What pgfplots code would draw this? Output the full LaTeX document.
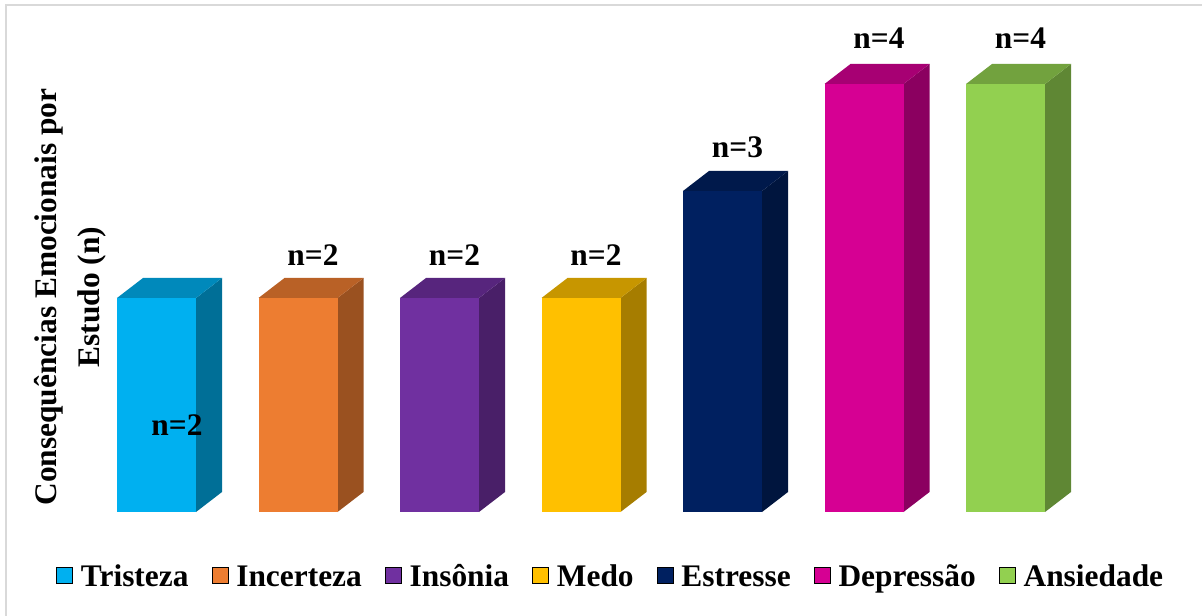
\documentclass[border=0pt]{standalone}
\usepackage{fontspec}
\setmainfont{Liberation Serif}
\usepackage{pgfplots}
\pgfplotsset{compat=1.18}
\definecolor{cTri}{HTML}{00B0F0}
\definecolor{cInc}{HTML}{ED7D31}
\definecolor{cIns}{HTML}{7030A0}
\definecolor{cMed}{HTML}{FFC000}
\definecolor{cEst}{HTML}{002060}
\definecolor{cDep}{HTML}{D60093}
\definecolor{cAns}{HTML}{92D050}
\definecolor{frameg}{HTML}{D9D9D9}
\newcommand{\lblfont}{\bfseries\fontsize{15.7}{18}\selectfont}
\newcommand{\legtxt}[1]{\hspace{2pt}\strut #1}
\begin{document}
\begin{tikzpicture}
\path[use as bounding box] (0,0) rectangle (601pt,307.5pt);
\draw[frameg, line width=1pt] (2.75pt,-2pt) -- (2.75pt,304.75pt) -- (605pt,304.75pt);
\begin{axis}[
  at={(49.95pt,51.5pt)}, anchor=south west,
  x=70.75pt, y=53.5pt,
  xmin=-0.4, xmax=6.7, ymin=0, ymax=4.6,
  hide axis, clip=false,
  /pgf/number format/assume math mode=true,
  legend columns=-1,
  legend image code/.code={\fill[#1] (0pt,-4pt) rectangle (8pt,4pt);},
  legend style={draw=none, fill=none, font=\lblfont, at={(0.5094,-0.128)}, anchor=center,
    /tikz/every even column/.append style={column sep=9.5pt}},
  front/.style={ybar, bar width=39.5pt, bar shift=0pt, draw=none, forget plot,
    nodes near coords={n=\pgfmathprintnumber{\pgfplotspointmeta}},
    every node near coord/.append style={font=\lblfont, anchor=center, xshift=7.5pt, yshift=21.5pt}},
  face/.style={draw=none, forget plot},
]
% side and top faces (depth)
\addplot[face, fill=cTri!63!black] coordinates {(0.2792,0) (0.4629,0.1869) (0.4629,2.1869) (0.2792,2)};
\addplot[face, fill=cTri!78!black] coordinates {(-0.2792,2) (-0.0955,2.1869) (0.4629,2.1869) (0.2792,2)};
\addplot[face, fill=cInc!65!black] coordinates {(1.2792,0) (1.4629,0.1869) (1.4629,2.1869) (1.2792,2)};
\addplot[face, fill=cInc!78!black] coordinates {(0.7208,2) (0.9045,2.1869) (1.4629,2.1869) (1.2792,2)};
\addplot[face, fill=cIns!65!black] coordinates {(2.2792,0) (2.4629,0.1869) (2.4629,2.1869) (2.2792,2)};
\addplot[face, fill=cIns!78!black] coordinates {(1.7208,2) (1.9045,2.1869) (2.4629,2.1869) (2.2792,2)};
\addplot[face, fill=cMed!65!black] coordinates {(3.2792,0) (3.4629,0.1869) (3.4629,2.1869) (3.2792,2)};
\addplot[face, fill=cMed!78!black] coordinates {(2.7208,2) (2.9045,2.1869) (3.4629,2.1869) (3.2792,2)};
\addplot[face, fill=cEst!65!black] coordinates {(4.2792,0) (4.4629,0.1869) (4.4629,3.1869) (4.2792,3)};
\addplot[face, fill=cEst!78!black] coordinates {(3.7208,3) (3.9045,3.1869) (4.4629,3.1869) (4.2792,3)};
\addplot[face, fill=cDep!65!black] coordinates {(5.2792,0) (5.4629,0.1869) (5.4629,4.1869) (5.2792,4)};
\addplot[face, fill=cDep!78!black] coordinates {(4.7208,4) (4.9045,4.1869) (5.4629,4.1869) (5.2792,4)};
\addplot[face, fill=cAns!65!black] coordinates {(6.2792,0) (6.4629,0.1869) (6.4629,4.1869) (6.2792,4)};
\addplot[face, fill=cAns!78!black] coordinates {(5.7208,4) (5.9045,4.1869) (6.4629,4.1869) (6.2792,4)};
% front faces
\addplot[front, fill=cTri, every node near coord/.append style={xshift=2.75pt, yshift=-85pt}] coordinates {(0,2)};
\addplot[front, fill=cInc] coordinates {(1,2)};
\addplot[front, fill=cIns] coordinates {(2,2)};
\addplot[front, fill=cMed] coordinates {(3,2)};
\addplot[front, fill=cEst, every node near coord/.append style={yshift=0.5pt}] coordinates {(4,3)};
\addplot[front, fill=cDep, every node near coord/.append style={yshift=1.5pt}] coordinates {(5,4)};
\addplot[front, fill=cAns, every node near coord/.append style={yshift=1.5pt}] coordinates {(6,4)};
% legend
\addlegendimage{fill=cTri}\addlegendentry{\legtxt{Tristeza}}
\addlegendimage{fill=cInc}\addlegendentry{\legtxt{Incerteza}}
\addlegendimage{fill=cIns}\addlegendentry{\legtxt{Insônia}}
\addlegendimage{fill=cMed}\addlegendentry{\legtxt{Medo}}
\addlegendimage{fill=cEst}\addlegendentry{\legtxt{Estresse}}
\addlegendimage{fill=cDep}\addlegendentry{\legtxt{Depressão}}
\addlegendimage{fill=cAns}\addlegendentry{\legtxt{Ansiedade}}
\end{axis}
\node[rotate=90, align=center, font=\bfseries\fontsize{15.7}{21.5}\selectfont] at (35pt,159pt) {Consequências Emocionais por\\Estudo (n)};
\end{tikzpicture}
\end{document}
